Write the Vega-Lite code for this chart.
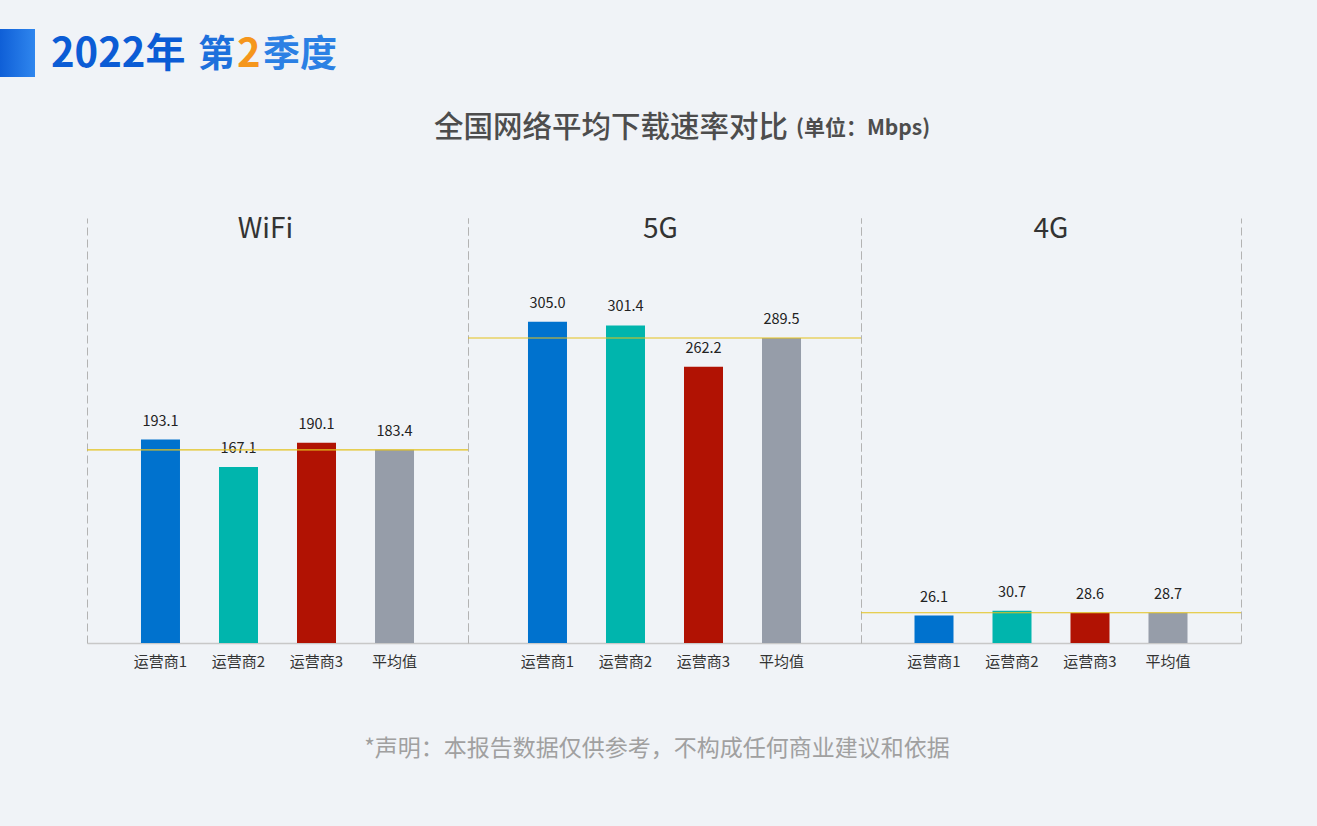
{
  "$schema": "https://vega.github.io/schema/vega-lite/v6.json",
  "background": "#f0f3f7",
  "padding": {"left": 0, "top": 29, "right": 76, "bottom": 70},
  "spacing": 0,
  "bounds": "flush",
  "config": {
    "font": "Noto Sans CJK SC",
    "view": {"stroke": null},
    "axisX": {"domainColor": "#c8c8c8", "domainWidth": 1.5, "ticks": false, "labelFontSize": 15, "labelColor": "#333333", "labelPadding": 11, "labelAngle": 0, "labelFont": "Noto Sans CJK SC"},
    "axisY": {"domainDash": [8, 4], "domainColor": "#b3b3b3", "domainWidth": 1, "ticks": false, "labels": false, "grid": false}
  },
  "datasets": {
    "d": [
      {"net": "WiFi", "op": "运营商1", "value": 193.1},
      {"net": "WiFi", "op": "运营商2", "value": 167.1},
      {"net": "WiFi", "op": "运营商3", "value": 190.1},
      {"net": "WiFi", "op": "平均值", "value": 183.4},
      {"net": "5G", "op": "运营商1", "value": 305.0},
      {"net": "5G", "op": "运营商2", "value": 301.4},
      {"net": "5G", "op": "运营商3", "value": 262.2},
      {"net": "5G", "op": "平均值", "value": 289.5},
      {"net": "4G", "op": "运营商1", "value": 26.1},
      {"net": "4G", "op": "运营商2", "value": 30.7},
      {"net": "4G", "op": "运营商3", "value": 28.6},
      {"net": "4G", "op": "平均值", "value": 28.7}
    ],
    "blank": [{}]
  },
  "hconcat": [
    {
      "width": 381,
      "height": 425,
      "resolve": {"axis": {"y": "independent"}},
      "layer": [
        {
          "data": {"name": "d"},
          "transform": [{"filter": "datum.net === 'WiFi'"}],
          "mark": {"type": "bar"},
          "encoding": {
            "x": {"field": "op", "type": "nominal", "sort": ["运营商1", "运营商2", "运营商3", "平均值"], "scale": {"paddingInner": 0.5, "paddingOuter": 0.692}, "axis": {"title": null}},
            "y": {"field": "value", "type": "quantitative", "scale": {"domain": [0, 403.4], "nice": false}, "axis": {"title": null, "orient": "left"}},
            "color": {"field": "op", "type": "nominal", "scale": {"domain": ["运营商1", "运营商2", "运营商3", "平均值"], "range": ["#0072ce", "#00b5ad", "#b11203", "#969da9"]}, "legend": null}
          }
        },
        {
          "data": {"name": "d"},
          "transform": [{"filter": "datum.net === 'WiFi'"}],
          "mark": {"type": "text", "baseline": "alphabetic", "dy": -14, "fontSize": 14.5, "color": "#222222"},
          "encoding": {
            "x": {"field": "op", "type": "nominal", "sort": ["运营商1", "运营商2", "运营商3", "平均值"]},
            "y": {"field": "value", "type": "quantitative", "axis": null},
            "text": {"field": "value", "type": "quantitative", "format": ".1f"}
          }
        },
        {
          "data": {"name": "d"},
          "transform": [{"filter": "datum.net === 'WiFi' && datum.op === '平均值'"}],
          "mark": {"type": "rule", "color": "#e3c21c", "strokeWidth": 1.2},
          "encoding": {
            "y": {"field": "value", "type": "quantitative", "axis": {"title": null, "orient": "right"}}
          }
        },
        {
          "data": {"name": "blank"},
          "mark": {"type": "text", "align": "center", "baseline": "middle", "fontSize": 28, "color": "#333333"},
          "encoding": {"x": {"value": 178.5}, "y": {"value": 12}, "text": {"value": "WiFi"}}
        },
        {
          "data": {"name": "blank"},
          "mark": {"type": "rect", "color": {"gradient": "linear", "x1": 0, "x2": 1, "y1": 0, "y2": 0, "stops": [{"offset": 0, "color": "#0f5fd7"}, {"offset": 1, "color": "#2f86ee"}]}},
          "encoding": {"x": {"value": -87}, "x2": {"value": -52}, "y": {"value": -189}, "y2": {"value": -141}}
        },
        {
          "data": {"name": "blank"},
          "mark": {"type": "text", "align": "left", "baseline": "alphabetic", "fontSize": 40, "fontWeight": "bold", "color": "#0b5cd5"},
          "encoding": {"x": {"value": -36}, "y": {"value": -151}, "text": {"value": "2022年"}}
        },
        {
          "data": {"name": "blank"},
          "mark": {"type": "text", "align": "left", "baseline": "alphabetic", "fontSize": 37, "fontWeight": "bold", "color": "#1d70dc"},
          "encoding": {"x": {"value": 111}, "y": {"value": -151}, "text": {"value": "第"}}
        },
        {
          "data": {"name": "blank"},
          "mark": {"type": "text", "align": "left", "baseline": "alphabetic", "fontSize": 40, "fontWeight": "bold", "color": "#f5961c"},
          "encoding": {"x": {"value": 150}, "y": {"value": -151}, "text": {"value": "2"}}
        },
        {
          "data": {"name": "blank"},
          "mark": {"type": "text", "align": "left", "baseline": "alphabetic", "fontSize": 37, "fontWeight": "bold", "color": "#2b80e4"},
          "encoding": {"x": {"value": 176}, "y": {"value": -151}, "text": {"value": "季度"}}
        },
        {
          "data": {"name": "blank"},
          "mark": {"type": "text", "align": "left", "baseline": "middle", "fontSize": 29.5, "fontWeight": 500, "color": "#4d4d4d"},
          "encoding": {"x": {"value": 347}, "y": {"value": -90.5}, "text": {"value": "全国网络平均下载速率对比"}}
        },
        {
          "data": {"name": "blank"},
          "mark": {"type": "text", "align": "left", "baseline": "middle", "fontSize": 21, "fontWeight": "bold", "color": "#4d4d4d"},
          "encoding": {"x": {"value": 709}, "y": {"value": -89}, "text": {"value": "(单位：Mbps)"}}
        },
        {
          "data": {"name": "blank"},
          "mark": {"type": "text", "align": "center", "baseline": "middle", "fontSize": 23, "color": "#a0a0a0"},
          "encoding": {"x": {"value": 570}, "y": {"value": 531}, "text": {"value": "*声明：本报告数据仅供参考，不构成任何商业建议和依据"}}
        }
      ]
    },
    {
      "width": 393,
      "height": 425,
      "resolve": {"axis": {"y": "independent"}},
      "layer": [
        {
          "data": {"name": "d"},
          "transform": [{"filter": "datum.net === '5G'"}],
          "mark": {"type": "bar"},
          "encoding": {
            "x": {"field": "op", "type": "nominal", "sort": ["运营商1", "运营商2", "运营商3", "平均值"], "scale": {"paddingInner": 0.5, "paddingOuter": 0.769}, "axis": {"title": null}},
            "y": {"field": "value", "type": "quantitative", "scale": {"domain": [0, 403.4], "nice": false}, "axis": {"title": null, "orient": "left"}},
            "color": {"field": "op", "type": "nominal", "scale": {"domain": ["运营商1", "运营商2", "运营商3", "平均值"], "range": ["#0072ce", "#00b5ad", "#b11203", "#969da9"]}, "legend": null}
          }
        },
        {
          "data": {"name": "d"},
          "transform": [{"filter": "datum.net === '5G'"}],
          "mark": {"type": "text", "baseline": "alphabetic", "dy": -14, "fontSize": 14.5, "color": "#222222"},
          "encoding": {
            "x": {"field": "op", "type": "nominal", "sort": ["运营商1", "运营商2", "运营商3", "平均值"]},
            "y": {"field": "value", "type": "quantitative", "axis": null},
            "text": {"field": "value", "type": "quantitative", "format": ".1f"}
          }
        },
        {
          "data": {"name": "d"},
          "transform": [{"filter": "datum.net === '5G' && datum.op === '平均值'"}],
          "mark": {"type": "rule", "color": "#e3c21c", "strokeWidth": 1.2},
          "encoding": {
            "y": {"field": "value", "type": "quantitative", "axis": {"title": null, "orient": "right"}}
          }
        },
        {
          "data": {"name": "blank"},
          "mark": {"type": "text", "align": "center", "baseline": "middle", "fontSize": 28, "color": "#333333"},
          "encoding": {"x": {"value": 192.5}, "y": {"value": 12}, "text": {"value": "5G"}}
        }
      ]
    },
    {
      "width": 380,
      "height": 425,
      "resolve": {"axis": {"y": "independent"}},
      "layer": [
        {
          "data": {"name": "d"},
          "transform": [{"filter": "datum.net === '4G'"}],
          "mark": {"type": "bar"},
          "encoding": {
            "x": {"field": "op", "type": "nominal", "sort": ["运营商1", "运营商2", "运营商3", "平均值"], "scale": {"paddingInner": 0.5, "paddingOuter": 0.686}, "axis": {"title": null}},
            "y": {"field": "value", "type": "quantitative", "scale": {"domain": [0, 403.4], "nice": false}, "axis": {"title": null, "orient": "left"}},
            "color": {"field": "op", "type": "nominal", "scale": {"domain": ["运营商1", "运营商2", "运营商3", "平均值"], "range": ["#0072ce", "#00b5ad", "#b11203", "#969da9"]}, "legend": null}
          }
        },
        {
          "data": {"name": "d"},
          "transform": [{"filter": "datum.net === '4G'"}],
          "mark": {"type": "text", "baseline": "alphabetic", "dy": -14, "fontSize": 14.5, "color": "#222222"},
          "encoding": {
            "x": {"field": "op", "type": "nominal", "sort": ["运营商1", "运营商2", "运营商3", "平均值"]},
            "y": {"field": "value", "type": "quantitative", "axis": null},
            "text": {"field": "value", "type": "quantitative", "format": ".1f"}
          }
        },
        {
          "data": {"name": "d"},
          "transform": [{"filter": "datum.net === '4G' && datum.op === '平均值'"}],
          "mark": {"type": "rule", "color": "#e3c21c", "strokeWidth": 1.2},
          "encoding": {
            "y": {"field": "value", "type": "quantitative", "axis": {"title": null, "orient": "right"}}
          }
        },
        {
          "data": {"name": "blank"},
          "mark": {"type": "text", "align": "center", "baseline": "middle", "fontSize": 28, "color": "#333333"},
          "encoding": {"x": {"value": 190}, "y": {"value": 12}, "text": {"value": "4G"}}
        }
      ]
    }
  ]
}
